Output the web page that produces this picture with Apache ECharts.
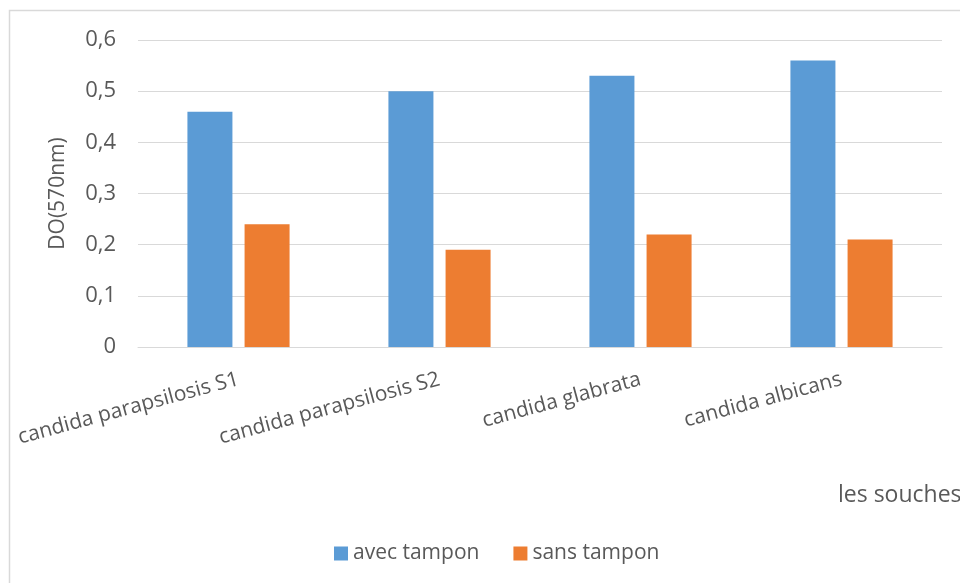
<!DOCTYPE html>
<html>
<head>
<meta charset="utf-8">
<script src="https://cdn.jsdelivr.net/npm/echarts@6/dist/echarts.min.js"></script>
<style>
html,body{margin:0;padding:0;background:#fff;}
#chart{width:960px;height:583px;}
</style>
</head>
<body>
<div id="chart"></div>
<script>
const categories = ['candida parapsilosis S1', 'candida parapsilosis S2', 'candida glabrata', 'candida albicans'];
const avecTampon = [0.46, 0.50, 0.53, 0.56];
const sansTampon = [0.24, 0.19, 0.22, 0.21];
const seriesNames = ['avec tampon', 'sans tampon'];
const yAxisName = 'DO(570nm)';
const xAxisName = 'les souches';

const FONT = '"Open Sans", sans-serif';
const GRAY = '#595959';
const chart = echarts.init(document.getElementById('chart'));
chart.setOption({
  animation: false,
  textStyle: { fontFamily: FONT },
  graphic: [
    { type: 'rect', shape: { x: 9.5, y: 10.5, width: 1000, height: 1000 },
      style: { fill: 'none', stroke: '#d9d9d9', lineWidth: 1.5 }, silent: true },
    { type: 'text', left: 838, top: 484,
      style: { text: xAxisName, fill: GRAY, font: '23px "Open Sans", sans-serif' } }
  ],
  legend: {
    data: seriesNames,
    left: 329, top: 538,
    itemWidth: 14, itemHeight: 14, itemGap: 34,
    icon: 'rect',
    textStyle: { color: GRAY, fontSize: 21, fontFamily: FONT }
  },
  grid: { left: 138, right: 18, top: 40, bottom: 236, containLabel: false },
  xAxis: {
    type: 'category',
    data: categories,
    axisLine: { show: true, lineStyle: { color: '#d9d9d9', width: 1 } },
    axisTick: { show: false },
    axisLabel: { rotate: 15, color: GRAY, fontSize: 21, margin: 32, interval: 0 }
  },
  yAxis: {
    type: 'value',
    min: 0, max: 0.6, interval: 0.1,
    name: yAxisName,
    nameLocation: 'middle',
    nameGap: 69,
    nameTextStyle: { color: GRAY, fontSize: 21 },
    axisLine: { show: false },
    axisTick: { show: false },
    axisLabel: { color: GRAY, fontSize: 22, margin: 22,
      formatter: v => (Math.round(v * 10) / 10).toString().replace('.', ',') },
    splitLine: { lineStyle: { color: '#d9d9d9', width: 1 } }
  },
  series: [
    { name: seriesNames[0], type: 'bar', data: avecTampon, barWidth: 45, barGap: '27%',
      itemStyle: { color: '#5B9BD5' } },
    { name: seriesNames[1], type: 'bar', data: sansTampon, barWidth: 45,
      itemStyle: { color: '#ED7D31' } }
  ]
});
</script>
</body>
</html>
